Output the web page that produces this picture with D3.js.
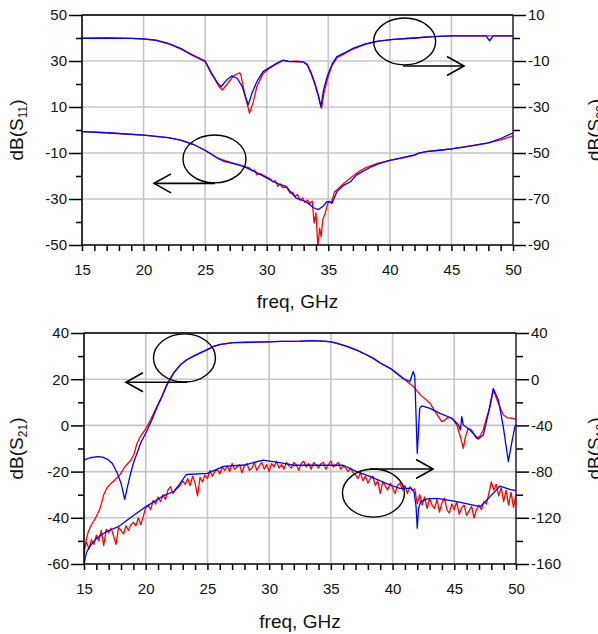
<!DOCTYPE html>
<html><head><meta charset="utf-8">
<script src="https://cdn.jsdelivr.net/npm/d3@7"></script>
<style>
body{margin:0;background:#fff}
svg{display:block}
text{font-family:Arial,"Liberation Sans",sans-serif;fill:#111}
</style>
</head><body>
<svg id="chart" width="598" height="634"></svg>
<script>
// ---------- tick labels ----------
const freqTicks = [15,20,25,30,35,40,45,50];
const freqMinor = [16,17,18,19,21,22,23,24,26,27,28,29,31,32,33,34,36,37,38,39,41,42,43,44,46,47,48,49];
const s11Ticks = [50,30,10,-10,-30,-50];
const s11Minor = [40,20,0,-20,-40];
const s22Ticks = [10,-10,-30,-50,-70,-90];
const s22Minor = [0,-20,-40,-60,-80];
const s21Ticks = [40,20,0,-20,-40,-60];
const s21Minor = [30,10,-10,-30,-50];
const s12Ticks = [40,0,-40,-80,-120,-160];
const s12Minor = [20,-20,-60,-100,-140];

// ---------- top panel: S11 (left axis) ----------
const s11SimFreq = [15,17,20,22,23,24,25,26,26.5,27,28,29,30,30.5,31,31.6,32,32.4,33.2,33.8,34.2,34.6,34.87,35.1,35.3,35.7,36.2,36.8,37.3,37.8,38.5,39,40,41,42,42.3,43,44,45,46,47,48,49,50];
const s11SimDB = [-0.7,-1.2,-2.2,-3.3,-4.4,-6.2,-8.8,-12.2,-13.6,-14.2,-15.6,-18,-20.8,-22.4,-23.5,-24.6,-27.3,-29.6,-31.2,-33.8,-34.6,-33,-31.2,-31.2,-31.9,-26.8,-24.2,-22.5,-19.5,-18,-16,-14.8,-13.2,-12,-10.8,-10.1,-9.4,-8.8,-8.2,-7.4,-6.6,-5.6,-3.7,-1.2];
const s11MeasFreq = [15,17,20,22,23,24,25,26,27,28,28.6,28.8,29,29.2,29.5,30,30.3,30.5,30.7,30.9,31.1,31.3,31.6,31.9,32.1,32.3,32.5,32.7,32.9,33.1,33.3,33.5,33.7,33.85,34,34.15,34.3,34.42,34.55,34.75,34.95,35.1,35.25,35.5,35.8,36.3,37,37.5,38,39,40,41,42,42.3,43,44,45,46,47,48,49,50];
const s11MeasDB = [-0.7,-1.2,-2.2,-3.3,-4.4,-6.1,-8.9,-12.2,-14,-15.6,-16.5,-17.8,-17.5,-19.5,-19,-20.5,-21.3,-22.5,-22,-24.5,-23.5,-25,-24.8,-27.5,-27,-29,-28,-30.5,-29.5,-31.5,-30.5,-32,-31,-40.5,-36,-50.7,-42.7,-46.5,-39,-36.2,-32,-31,-31.5,-27,-25.5,-23,-20,-18,-16.5,-14.5,-13.2,-12.2,-11,-10.3,-9.3,-8.8,-8.2,-7.3,-6.5,-5.6,-4.3,-2.6];

// ---------- top panel: S22 (right axis) ----------
const s22SimFreq = [15,17,19,20,21,22,23,24,25,25.5,26,26.3,26.7,27.15,27.6,28,28.3,28.5,28.8,29.2,29.7,30.2,30.8,31.35,31.8,32.4,33,33.3,33.6,33.9,34.2,34.4,34.6,34.9,35.3,35.7,36.3,37,38,39,40.3,42,43.5,45,47.8,48.1,48.4,50];
const s22SimDB = [-0.1,0,-0.2,-0.4,-0.9,-2.3,-4.5,-7.4,-10,-15,-19.5,-21.2,-18.5,-16.5,-17.5,-21,-26,-29.1,-24,-19,-14.6,-13,-11,-9.6,-10.2,-10.3,-10.5,-11.5,-15,-19.5,-25,-29.9,-23,-16.8,-11.5,-8.1,-6.5,-4.5,-2.6,-1.4,-0.6,0,0.6,0.9,0.9,-1.2,0.9,0.9];
const s22MeasFreq = [15,17,19,20,21,22,23,24,25,25.5,25.8,26.1,26.4,26.8,27.3,27.8,27.9,28.2,28.6,28.9,29.2,29.7,30.2,30.8,31.35,31.8,32.4,33,33.3,33.6,33.9,34.2,34.45,34.65,34.95,35.3,35.7,36.3,37,38,39,40.3,42,43.5,45,47,50];
const s22MeasDB = [-0.2,-0.1,-0.2,-0.5,-1,-2.5,-4.7,-7.7,-10.3,-15.5,-18,-21,-22.6,-20,-16.5,-15.1,-16,-24,-32.7,-28,-21.2,-15.5,-13.2,-11.3,-9.8,-10.3,-10.1,-10.4,-11.8,-15.5,-20,-25.5,-30.6,-24,-17.5,-12,-8.6,-6.9,-4.8,-2.8,-1.5,-0.6,0,0.6,0.9,0.9,0.9];

// ---------- bottom panel: S21 (left axis) ----------
const s21SimFreq = [15,15.5,16.1,16.5,16.9,17.3,17.7,18,18.3,18.55,18.78,19.05,19.3,19.6,20,20.5,20.9,21.3,21.7,22.24,22.78,23.3,23.86,24.4,24.94,25.5,26,27.1,28.5,29.8,31,32.5,33.5,34.4,35,35.5,36.3,37.1,37.8,38.44,39,39.8,40.4,40.87,41.1,41.4,41.68,41.8,42,42.2,42.36,43.03,43.84,44.8,45.3,45.5,45.6,45.73,46.27,46.94,47.35,47.76,48.16,48.57,48.97,49.38,49.65,49.92,50];
const s21SimDB = [-15,-14,-13.5,-13.7,-14.7,-16.5,-20.7,-25,-32,-26,-20.7,-15.5,-12.1,-7.5,-3.4,2.3,7.6,12.2,17.3,22.4,26,28.3,30,31.4,32.7,34.1,35,35.8,36,36.2,36.4,36.5,36.7,36.5,36.2,35.5,34.2,32.6,30.8,29,27,24.7,22.3,20.2,19.7,19,23.3,21.1,-12.1,7.4,8.4,7.4,5.2,3.1,0.5,-2,3.8,0.2,-2,-5.9,-4.2,5.2,16,11,-0.6,-15.7,-7.7,-0.3,0.5];
const s21MeasFreq = [15,15.1,15.2,15.35,15.6,15.9,16.3,16.6,16.84,17.2,17.5,17.9,18.3,18.5,18.8,19.05,19.3,19.6,20,20.4,20.9,21.3,21.7,22.24,22.78,23.3,23.86,24.4,24.94,25.5,26,27.1,28.5,29.8,31,32.5,33.5,34.4,35,35.5,36.3,37.1,37.8,38.44,39,39.8,40.4,40.87,41.3,41.68,42.3,43.03,43.5,43.98,44.25,44.5,44.8,45.2,45.5,45.73,45.9,46.13,46.4,46.8,47.1,47.35,47.6,47.9,48.16,48.57,48.97,49.3,49.65,50];
const s21MeasDB = [-56,-52,-49,-46,-43,-40.5,-36,-30,-27.2,-25,-23.6,-21.5,-18,-16.8,-15,-12.5,-7.7,-4.5,-1.5,2.5,8.1,12.5,17.5,22.6,26.1,28.3,29.9,31.3,32.6,34.2,35.1,35.8,36,36.2,36.4,36.5,36.7,36.5,36.2,35.5,34.2,32.6,30.8,29,27,24.7,22.3,20.4,18.5,16.8,13,9.6,5.5,1.6,2.3,3.5,3.1,0.2,-5,-9.9,-5,-1.3,-2,-5.6,-4.5,-2,3,8.1,15.3,9.6,4.5,3.3,3.1,2.6];

// ---------- bottom panel: S12 (right axis) ----------
const s12SimFreq = [15,15.2,15.4,15.6,16,16.6,17,17.7,18,19,20,21.5,22.3,22.8,23.3,25,26.3,28,29.5,30.3,31.2,32,36,37.1,38.2,39.8,40.6,41.5,41.75,41.9,42,42.1,42.28,42.8,43.6,45.2,47.1,47.9,48.7,49.5,50];
const s12SimDB = [-160,-150,-146,-143,-138,-133.4,-131,-128,-126,-118,-110.5,-100.5,-97,-90,-82.5,-81.5,-75.5,-74.3,-70,-71.4,-72.8,-74.5,-74.5,-80,-84.4,-91.6,-94.5,-94.5,-98,-110,-129,-112,-106,-103.7,-103.1,-106,-110.4,-101.7,-92.5,-95.3,-96.5];
// measured sweep: 15 GHz to 50 GHz, 0.2 GHz steps
const s12MeasStartGHz = 15, s12MeasStepGHz = 0.2;
const s12MeasDB = [
  -148,-141,-147,-139,-143,-135,-140,-131,-144,-130,
  -133,-129,-136,-143,-128,-131,-134,-127,-131,-126,
  -124,-127,-120,-126,-119,-111,-109,-113,-105,-108,
  -102,-106,-100,-104,-96,-93,-99,-96,-94,-92,
  -88,-91,-86,-92,-84,-90,-101,-85,-89,-83,
  -86,-79,-84,-80,-78,-82,-76,-79,-75,-80,
  -73,-78,-76,-74,-81,-75,-73,-79,-77,-72,
  -79,-75,-72,-78,-74,-80,-73,-76,-71,-77,
  -74,-78,-72,-75,-77,-72,-74,-79,-73,-71,
  -76,-73,-78,-72,-74,-77,-73,-72,-78,-74,
  -71,-76,-74,-72,-78,-75,-77,-80,-77,-81,
  -83,-86,-81,-88,-84,-90,-86,-84,-92,-88,
  -99,-89,-92,-96,-90,-94,-99,-92,-90,-96,
  -92,-99,-93,-96,-95,-108,-100,-109,-102,-112,
  -103,-109,-112,-104,-115,-107,-103,-113,-116,-108,
  -113,-106,-117,-111,-109,-118,-114,-110,-120,-113,
  -109,-113,-106,-108,-99,-89,-96,-91,-101,-94,
  -106,-96,-109,-98,-111,-100
];
const s12MeasFreq = s12MeasDB.map((_, i) => +(s12MeasStartGHz + i * s12MeasStepGHz).toFixed(2));

// ---------- annotations (data units of the left axis) ----------
const topEllipses = [{f:41.2, v:38.5, rf:2.52, rv:10.2}, {f:25.76, v:-12.6, rf:2.56, rv:10.4}];
const topArrows = [{f0:41.07, f1:46.02, v:27.8}, {f0:25.8, f1:20.85, v:-23.2}];
const botEllipses = [{f:23.14, v:29.2, rf:2.51, rv:10.4}, {f:38.45, v:-29.3, rf:2.51, rv:10.4}];
const botArrows = [{f0:23.35, f1:18.4, v:18.7}, {f0:38.17, f1:43.28, v:-18.9}];

const RED = "#ff0000", BLUE = "#0000ff";
const svg = d3.select("#chart");
const fmt = d => String(d);

function drawPanel(p, idx) {
  const x = d3.scaleLinear().domain([15, 50]).range([p.left, p.right]);
  const yL = d3.scaleLinear().domain(p.lDom).range([p.bottom, p.top]);
  const yR = d3.scaleLinear().domain(p.rDom).range([p.bottom, p.top]);
  const g = svg.append("g");

  // grid
  const grid = g.append("g").attr("stroke", "#c6c6c6").attr("stroke-width", 1.6);
  freqTicks.slice(1, -1).forEach(f => grid.append("line")
    .attr("x1", x(f)).attr("x2", x(f)).attr("y1", p.top).attr("y2", p.bottom));
  p.lTicks.slice(1, -1).forEach(v => grid.append("line")
    .attr("x1", p.left).attr("x2", p.right).attr("y1", yL(v)).attr("y2", yL(v)));

  // curves
  const clipId = "clip" + idx;
  svg.append("clipPath").attr("id", clipId).append("rect")
    .attr("x", p.left).attr("y", p.top).attr("width", p.right - p.left).attr("height", p.bottom - p.top);
  const cg = g.append("g").attr("clip-path", `url(#${clipId})`);
  p.series.forEach(s => {
    const ys = s.axis === "left" ? yL : yR;
    const pts = s.f.map((f, i) => [f, s.v[i]]);
    cg.append("path").datum(pts)
      .attr("fill", "none").attr("stroke", s.color).attr("stroke-width", 1.3)
      .attr("stroke-linejoin", "round")
      .attr("d", d3.line().x(d => x(d[0])).y(d => ys(d[1])));
  });

  // axes
  const fontSize = 15;
  const styleAxis = sel => {
    sel.select(".domain").remove();
    sel.selectAll(".tick line").attr("stroke", "#000").attr("stroke-width", 1.5);
    sel.selectAll(".tick text").attr("fill", "#111").style("font-size", fontSize + "px")
      .style("font-family", "Arial, 'Liberation Sans', sans-serif");
  };
  g.append("g").attr("transform", `translate(${p.left},0)`)
    .call(d3.axisLeft(yL).tickValues(p.lTicks).tickSize(13).tickPadding(2).tickFormat(fmt)).call(styleAxis);
  g.append("g").attr("transform", `translate(${p.left},0)`)
    .call(d3.axisLeft(yL).tickValues(p.lMinor).tickSize(6).tickFormat("")).call(styleAxis);
  g.append("g").attr("transform", `translate(${p.right},0)`)
    .call(d3.axisRight(yR).tickValues(p.rTicks).tickSize(13).tickPadding(2).tickFormat(fmt)).call(styleAxis);
  g.append("g").attr("transform", `translate(${p.right},0)`)
    .call(d3.axisRight(yR).tickValues(p.rMinor).tickSize(7).tickFormat("")).call(styleAxis);
  g.append("g").attr("transform", `translate(0,${p.bottom})`)
    .call(d3.axisBottom(x).tickValues(freqTicks).tickSize(6).tickPadding(13).tickFormat(fmt)).call(styleAxis);
  g.append("g").attr("transform", `translate(0,${p.bottom})`)
    .call(d3.axisBottom(x).tickValues(freqMinor).tickSize(6).tickFormat("")).call(styleAxis);

  // frame
  g.append("line").attr("x1", p.left).attr("x2", p.right).attr("y1", p.top).attr("y2", p.top)
    .attr("stroke", "#333").attr("stroke-width", 2.2);
  g.append("line").attr("x1", p.right).attr("x2", p.right).attr("y1", p.top).attr("y2", p.bottom)
    .attr("stroke", "#222").attr("stroke-width", 1.5);
  g.append("line").attr("x1", p.left).attr("x2", p.left).attr("y1", p.top).attr("y2", p.bottom + 1)
    .attr("stroke", "#000").attr("stroke-width", 1.6);
  g.append("line").attr("x1", p.left).attr("x2", p.right).attr("y1", p.bottom).attr("y2", p.bottom)
    .attr("stroke", "#000").attr("stroke-width", 1.6);

  // annotations
  const ag = g.append("g").attr("fill", "none").attr("stroke", "#000").attr("stroke-width", 1.4);
  p.ellipses.forEach(e => ag.append("ellipse")
    .attr("cx", x(e.f)).attr("cy", yL(e.v))
    .attr("rx", x(e.f + e.rf) - x(e.f)).attr("ry", yL(e.v - e.rv) - yL(e.v)));
  p.arrows.forEach(a => {
    const x0 = x(a.f0), x1 = x(a.f1), yy = yL(a.v), dir = Math.sign(x1 - x0);
    ag.append("line").attr("x1", x0).attr("x2", x1).attr("y1", yy).attr("y2", yy).attr("stroke-width", 1.6);
    ag.append("path").attr("stroke-width", 1.6)
      .attr("d", `M${x1 - dir * 17},${yy - 9.5}L${x1},${yy}L${x1 - dir * 17},${yy + 9.5}`);
  });

  // titles
  const cy = (p.top + p.bottom) / 2;
  const yLabel = (xb, sub) => {
    const t = g.append("text").attr("transform", `translate(${xb},${cy}) rotate(-90)`)
      .attr("text-anchor", "middle").style("font-size", "19px");
    t.append("tspan").text("dB(S");
    t.append("tspan").text(sub).style("font-size", "12px").attr("dy", "4");
    t.append("tspan").text(")").attr("dy", "-4");
  };
  yLabel(23, p.leftSub);
  yLabel(601, p.rightSub);
  g.append("text").attr("x", (p.left + p.right) / 2).attr("y", p.xLabelBaseline)
    .attr("text-anchor", "middle").style("font-size", "19px").text("freq, GHz");
}

drawPanel({
  left: 82, right: 513, top: 15, bottom: 245,
  lDom: [-50, 50], rDom: [-90, 10],
  lTicks: s11Ticks, lMinor: s11Minor, rTicks: s22Ticks, rMinor: s22Minor,
  xLabelBaseline: 308, leftSub: "11", rightSub: "22",
  series: [
    {f: s22MeasFreq, v: s22MeasDB, axis: "right", color: RED},
    {f: s11MeasFreq, v: s11MeasDB, axis: "left", color: RED},
    {f: s22SimFreq, v: s22SimDB, axis: "right", color: BLUE},
    {f: s11SimFreq, v: s11SimDB, axis: "left", color: BLUE}
  ],
  ellipses: topEllipses, arrows: topArrows
}, 0);

drawPanel({
  left: 84, right: 516, top: 333, bottom: 564,
  lDom: [-60, 40], rDom: [-160, 40],
  lTicks: s21Ticks, lMinor: s21Minor, rTicks: s12Ticks, rMinor: s12Minor,
  xLabelBaseline: 628, leftSub: "21", rightSub: "12",
  series: [
    {f: s21MeasFreq, v: s21MeasDB, axis: "left", color: RED},
    {f: s12MeasFreq, v: s12MeasDB, axis: "right", color: RED},
    {f: s21SimFreq, v: s21SimDB, axis: "left", color: BLUE},
    {f: s12SimFreq, v: s12SimDB, axis: "right", color: BLUE}
  ],
  ellipses: botEllipses, arrows: botArrows
}, 1);
</script>
</body></html>
